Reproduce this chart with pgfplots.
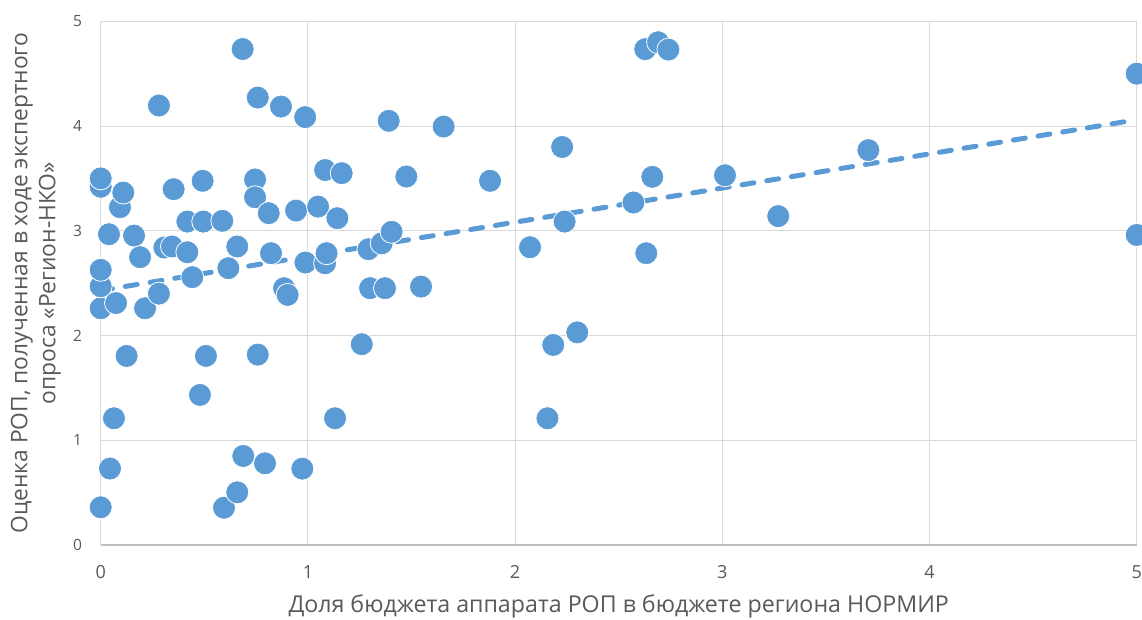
\documentclass[border=0pt]{standalone}
\usepackage{pgfplots}
\pgfplotsset{compat=1.18}
\usepackage{fontspec}
\setmainfont{Open Sans}
\definecolor{ptblue}{HTML}{5B9BD5}
\definecolor{gridgray}{HTML}{D9D9D9}
\definecolor{axgray}{HTML}{BFBFBF}
\definecolor{txtgray}{HTML}{595959}
\begin{document}
\begin{tikzpicture}
\useasboundingbox (0,0) rectangle (1142pt,619pt);
\begin{axis}[
 at={(100.7pt,74pt)}, anchor=south west,
 scale only axis, width=1036pt, height=523.7pt,
 xmin=0,xmax=5,ymin=0,ymax=5,
 xtick={0,1,2,3,4,5}, ytick={0,1,2,3,4,5},
 grid=major, major grid style={draw=gridgray, line width=1pt},
 major tick length=0pt,
 axis x line*=bottom, axis y line*=left,
 x axis line style={draw=axgray, line width=1.3pt, -},
 y axis line style={draw=none},
 clip=false,
 /pgf/number format/assume math mode=true,
 ticklabel style={text=txtgray, inner sep=0pt},
 xticklabel style={font=\fontsize{18}{20}\selectfont, anchor=north, yshift=-20pt},
 yticklabel style={font=\fontsize{15.5}{18}\selectfont, anchor=east, xshift=-18.5pt},
 xlabel={Доля бюджета аппарата РОП в бюджете региона НОРМИР},
 ylabel={Оценка РОП, полученная в ходе экспертного\\опроса «Регион-НКО»},
 label style={text=txtgray},
 xlabel style={font=\fontsize{23.2}{28}\selectfont, at={(axis description cs:0.5,-0.1298)}, anchor=base},
 ylabel style={font=\fontsize{22.8}{28}\selectfont, at={(axis description cs:-0.0627,0.5)}, anchor=center, align=center},
]
\addplot[only marks, mark=*, mark size=11.5pt, mark options={fill=ptblue, draw=white, line width=0.8pt}] coordinates {
(0,0.36) (0.045,0.73) (0.064,1.21) (0.125,1.805) (0,2.26) (0,2.47) (0,2.627)
(0.074,2.31) (0.214,2.26) (0.281,2.40) (0.04,2.967) (0.093,3.225) (0.109,3.365)
(0,3.42) (0,3.50)
(0.161,2.954) (0.19,2.748) (0.281,4.196) (0.307,2.84) (0.344,2.85) (0.352,3.397)
(0.418,3.088) (0.418,2.795) (0.442,2.557) (0.479,1.433) (0.492,3.477) (0.495,3.088)
(0.508,1.805) (0.587,3.095) (0.595,0.356) (0.616,2.643) (0.659,2.85) (0.659,0.503)
(0.685,4.735) (0.688,0.85) (0.745,3.49) (0.745,3.32) (0.758,1.818) (0.758,4.272)
(0.793,0.78) (0.811,3.168) (0.822,2.786) (0.870,4.186) (0.885,2.452) (0.902,2.388)
(0.943,3.193) (0.973,0.729) (0.987,4.085) (0.988,2.697) (1.049,3.231) (1.083,3.58)
(1.083,2.69) (1.09,2.786) (1.131,1.21) (1.142,3.12) (1.163,3.55) (1.26,1.917)
(1.292,2.824) (1.30,2.452) (1.356,2.88) (1.372,2.452) (1.39,4.05) (1.404,2.99)
(1.475,3.518) (1.546,2.467) (1.655,3.995) (1.879,3.477) (2.072,2.843) (2.156,1.21)
(2.184,1.91) (2.227,3.80) (2.239,3.088) (2.30,2.03) (2.571,3.27) (2.628,4.734)
(2.633,2.786) (2.662,3.515) (2.69,4.80) (2.74,4.73) (3.013,3.53) (3.27,3.14)
(3.705,3.77) (5.0,4.50) (5.0,2.96)
};
\addplot[ptblue, line width=5pt, line cap=round, dash pattern=on 12pt off 13pt] coordinates {(0,2.43) (5,4.06)};
\end{axis}
\end{tikzpicture}
\end{document}
